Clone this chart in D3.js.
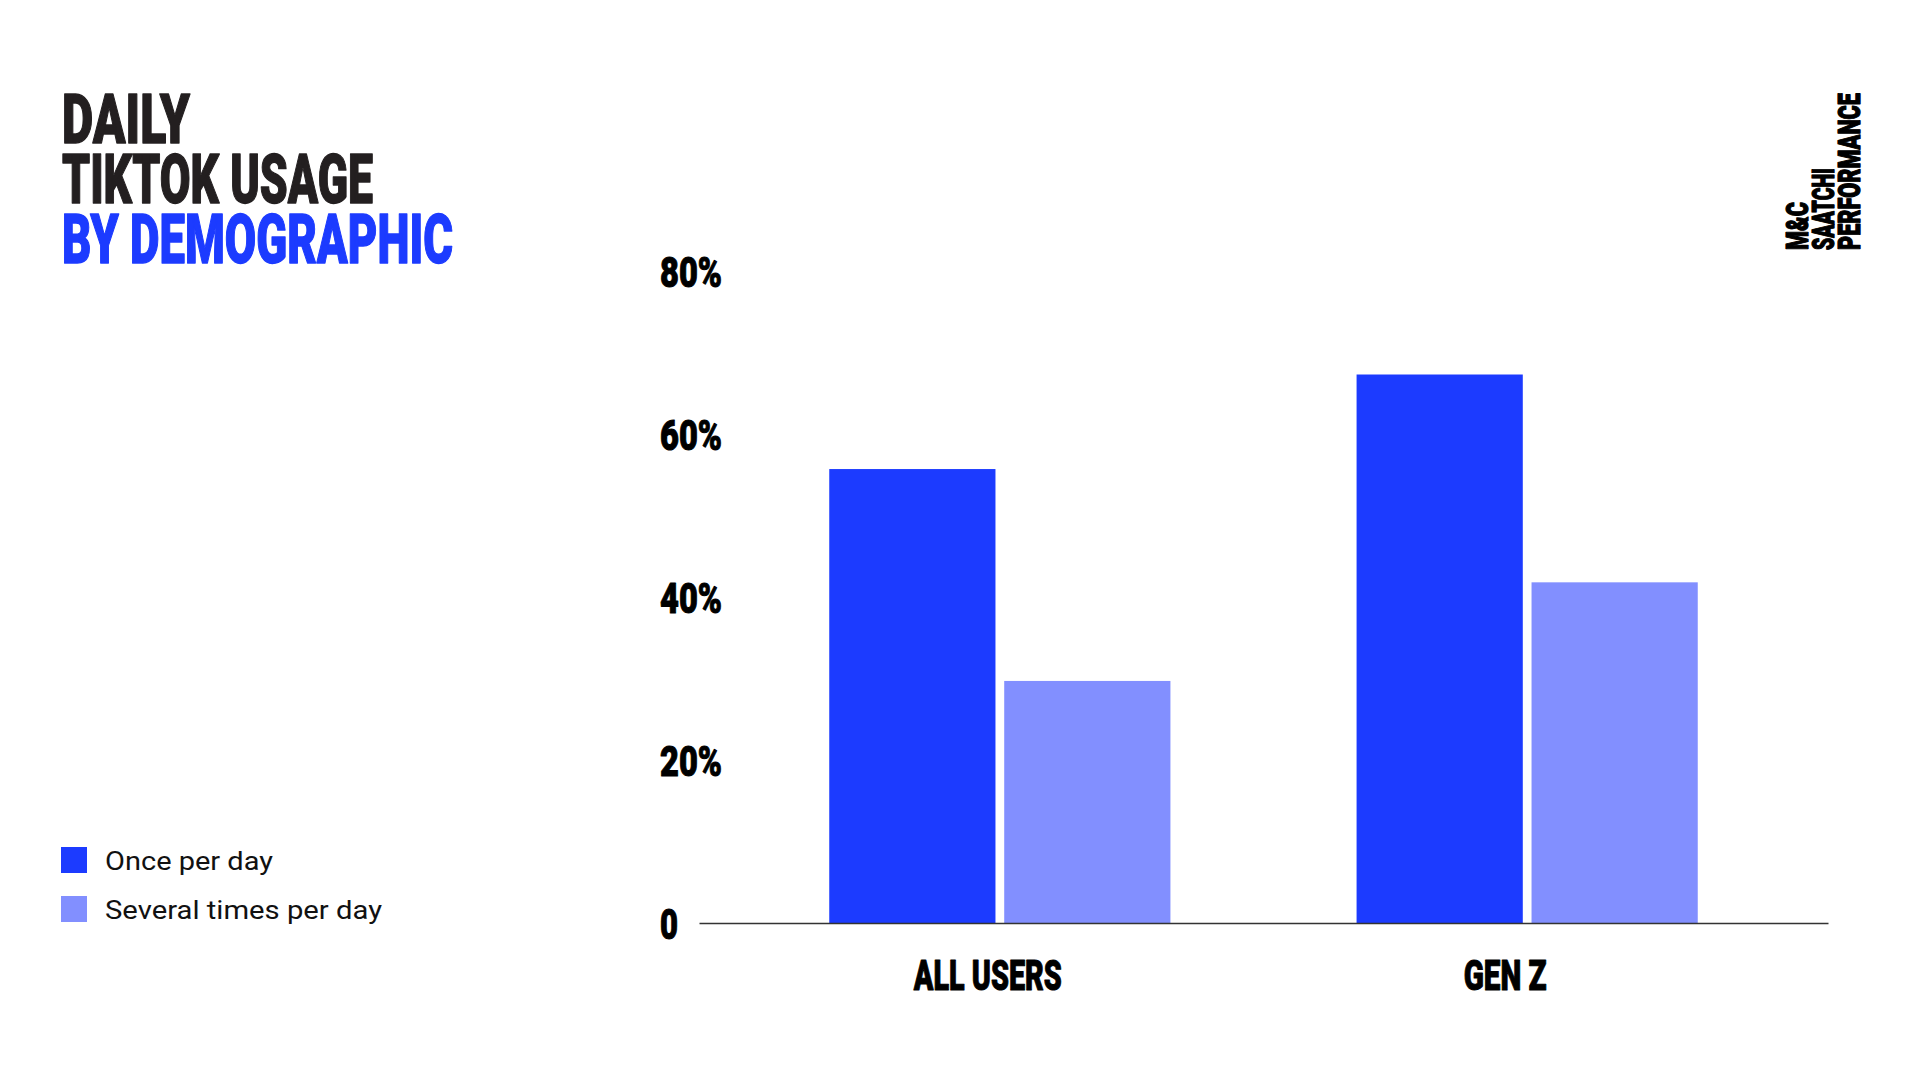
<!DOCTYPE html>
<html>
<head>
<meta charset="utf-8">
<script src="https://cdn.jsdelivr.net/npm/d3@7"></script>
<style>
  html, body { margin: 0; padding: 0; background: #ffffff; }
  svg { display: block; }
</style>
</head>
<body>
<svg id="chart" width="1920" height="1080"></svg>
<script>
// ---- Data ----
const categories = ["ALL USERS", "GEN Z"];
const seriesNames = ["Once per day", "Several times per day"];
const oncePerDay = [55.7, 67.3];
const severalTimesPerDay = [29.7, 41.8];
const yTickValues = [0, 20, 40, 60, 80];
const yTickLabels = ["0", "20%", "40%", "60%", "80%"];
const titleLines = ["DAILY", "TIKTOK USAGE", "BY DEMOGRAPHIC"];
const logoLines = ["M&C", "SAATCHI", "PERFORMANCE"];

// ---- Styles ----
const DARK = "#1c3bff";
const LIGHT = "#828fff";
const INK = "#231f20";
const HEAVY = "Roboto, 'Liberation Sans', Arial, sans-serif";
const colors = [DARK, LIGHT];
const seriesValues = [oncePerDay, severalTimesPerDay];

const svg = d3.select("#chart");

function fitWidth(sel, w) {
  sel.attr("textLength", w).attr("lengthAdjust", "spacingAndGlyphs");
}
function heavy(sel, fill, sw) {
  sel.attr("font-family", HEAVY).attr("font-weight", 900)
    .attr("fill", fill).attr("stroke", fill).attr("stroke-width", sw)
    .attr("stroke-linejoin", "round");
}

// ---- Title ----
const titleWidths = [128, 311, 391];
const titleColors = [INK, INK, DARK];
const titleBaselines = [143, 203, 263];
titleLines.forEach((t, i) => {
  svg.append("text")
    .attr("x", 62).attr("y", titleBaselines[i])
    .attr("font-size", 68)
    .call(heavy, titleColors[i], 1.4)
    .text(t)
    .call(fitWidth, titleWidths[i]);
});

// ---- Logo ----
const logoWidths = [48, 82, 157];
const logoBaselines = [1808, 1834, 1860];
logoLines.forEach((t, i) => {
  svg.append("text")
    .attr("transform", `translate(${logoBaselines[i]},250) rotate(-90)`)
    .attr("font-size", 31)
    .call(heavy, "#000", 1.2)
    .text(t)
    .call(fitWidth, logoWidths[i]);
});

// ---- Scales ----
const y = d3.scaleLinear().domain([0, 80]).range([923, 271]);
const x0 = d3.scaleBand().domain(categories).range([699, 1828])
  .paddingInner(0.353).paddingOuter(0.247);
const x1 = d3.scaleBand().domain(seriesNames).range([0, x0.bandwidth()])
  .paddingInner(0.05);

// ---- Bars ----
const groups = svg.append("g").selectAll("g")
  .data(categories)
  .join("g")
  .attr("transform", d => `translate(${x0(d)},0)`);

groups.selectAll("rect")
  .data((c, ci) => seriesNames.map((s, si) => ({ s, si, v: seriesValues[si][ci] })))
  .join("rect")
  .attr("x", d => x1(d.s))
  .attr("width", x1.bandwidth())
  .attr("y", d => y(d.v))
  .attr("height", d => y(0) - y(d.v))
  .attr("fill", d => colors[d.si]);

// ---- Y axis ----
const yAxis = d3.axisLeft(y)
  .tickValues(yTickValues)
  .tickFormat((d, i) => yTickLabels[i])
  .tickSize(0);
const gy = svg.append("g").attr("transform", "translate(660,0)").call(yAxis);
gy.select(".domain").remove();
gy.selectAll(".tick text")
  .attr("x", 0).attr("dy", 15)
  .attr("text-anchor", "start")
  .attr("font-size", 42)
  .call(heavy, "#000", 1.0)
  .each(function(d, i) {
    d3.select(this).call(fitWidth, yTickLabels[i] === "0" ? 18 : 62);
  });

// ---- X axis ----
const xAxis = d3.axisBottom(x0).tickSize(0).tickSizeOuter(0);
const gx = svg.append("g").attr("transform", "translate(0,923)").call(xAxis);
gx.select(".domain").attr("stroke", "#333").attr("stroke-width", 1.5);
const xLabelWidths = [148, 83];
const xLabelShift = [-12, -22];
gx.selectAll(".tick text")
  .attr("y", 67).attr("dy", 0).attr("dx", (d, i) => xLabelShift[i])
  .attr("text-anchor", "middle")
  .attr("font-size", 42)
  .call(heavy, "#000", 1.0)
  .each(function(d, i) { d3.select(this).call(fitWidth, xLabelWidths[i]); });

// ---- Legend ----
const legendWidths = [168, 277];
const legend = svg.append("g").selectAll("g")
  .data(seriesNames)
  .join("g")
  .attr("transform", (d, i) => `translate(61,${847 + i * 49})`);
legend.append("rect")
  .attr("width", 26).attr("height", 26)
  .attr("fill", (d, i) => colors[i]);
legend.append("text")
  .attr("x", 44).attr("y", 23)
  .attr("font-family", "Roboto, 'Liberation Sans', sans-serif")
  .attr("font-weight", 400).attr("font-size", 25).attr("fill", "#111")
  .text(d => d)
  .each(function(d, i) { d3.select(this).call(fitWidth, legendWidths[i]); });
</script>
</body>
</html>
